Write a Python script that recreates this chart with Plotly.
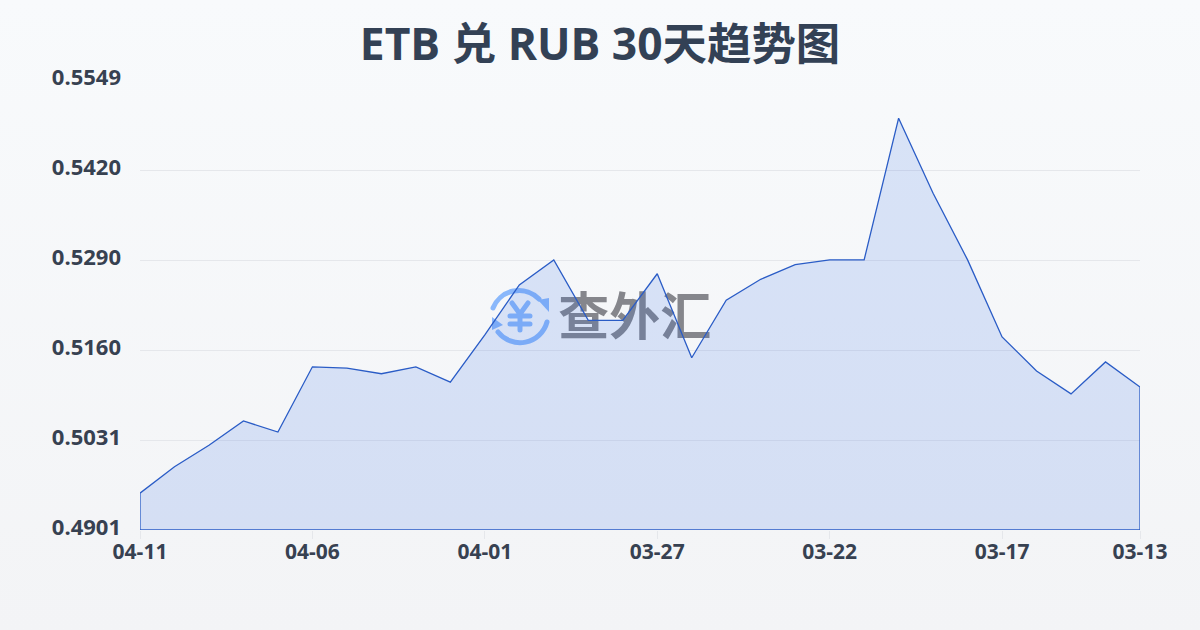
import base64
import plotly.graph_objects as go

dates = ["04-11","04-10","04-09","04-08","04-07","04-06","04-05","04-04","04-03","04-02",
         "04-01","03-31","03-30","03-29","03-28","03-27","03-26","03-25","03-24","03-23",
         "03-22","03-21","03-20","03-19","03-18","03-17","03-16","03-15","03-14","03-13"]
rates = [0.4954,0.4992,0.5023,0.5058,0.5042,0.5136,0.5134,0.5126,0.5136,0.5114,
         0.5182,0.5254,0.5290,0.5203,0.5203,0.5270,0.5149,0.5232,0.5262,0.5283,
         0.5290,0.5290,0.5494,0.5386,0.5290,0.5179,0.5130,0.5097,0.5143,0.5107]
y_labels = ["0.4901","0.5031","0.5160","0.5290","0.5420","0.5549"]
x_tick_idx = [0,5,10,15,20,25,29]
y_min, y_max = 0.4901, 0.5549
y_ticks = [round(y_min + i*(y_max-y_min)/5, 6) for i in range(6)]
xs = list(range(len(rates)))

def uri(svg):
    return "data:image/svg+xml;base64," + base64.b64encode(svg.encode()).decode()

bg = uri('<svg xmlns="http://www.w3.org/2000/svg" width="1200" height="630" preserveAspectRatio="none">'
         '<defs><linearGradient id="g" x1="0" y1="0" x2="0" y2="1"><stop offset="0" stop-color="#f8fafc"/>'
         '<stop offset="1" stop-color="#f3f4f6"/></linearGradient></defs><rect width="1200" height="630" fill="url(#g)"/></svg>')
icon = uri('<svg xmlns="http://www.w3.org/2000/svg" width="64" height="64" viewBox="0 0 64 64">'
           '<g fill="none" stroke="#8ab8fb" stroke-width="5" stroke-linecap="round">'
           '<path d="M5 25 A28 28 0 0 1 51 16"/><path d="M59 39 A28 28 0 0 1 10 49"/>'
           '<path d="M24 20 L32 31 L40 20 M22 33 H42 M22 41 H42 M32 31 V47"/></g>'
           '<path d="M50 17 L61 15 L61 29 Z" fill="#8ab8fb"/><path d="M4 34 L15 42 L4 47 Z" fill="#8ab8fb"/></svg>')

fig = go.Figure()
fig.add_trace(go.Scatter(x=[14.35], y=[0.5200], mode="text", text=["查外汇"], hoverinfo="skip",
    textfont=dict(family="Noto Sans CJK SC", size=51, color="#85868c", weight="bold"),
    textposition="middle center", showlegend=False))
fig.add_trace(go.Scatter(
    x=xs+[xs[-1],xs[0],xs[0]], y=rates+[y_min,y_min,rates[0]],
    mode="lines", fill="toself", fillcolor="rgba(40,100,225,0.15)",
    line=dict(color="#2a5cc6", width=1.3), showlegend=False, cliponaxis=False, hoverinfo="skip"))

fig.update_layout(
    width=1200, height=630, margin=dict(l=140,r=60,t=80,b=100),
    paper_bgcolor="#f6f7f9", plot_bgcolor="rgba(0,0,0,0)", showlegend=False,
    title=dict(text="<b>ETB 兑 RUB 30天趋势图</b>", x=0.5, xanchor="center", y=0.929, yanchor="middle",
               font=dict(family="Open Sans, Noto Sans CJK SC", size=44.4, color="#334155")),
    images=[dict(source=bg, xref="paper", yref="paper", x=-140/1000, y=1+80/450, sizex=1.2, sizey=630/450,
                 xanchor="left", yanchor="top", sizing="stretch", layer="below"),
            dict(source=icon, xref="paper", yref="paper", x=(520-140)/1000, y=(530-315)/450, sizex=0.064, sizey=64/450,
                 xanchor="center", yanchor="middle", sizing="stretch", layer="below")],
    xaxis=dict(range=[0,29], tickvals=x_tick_idx, ticktext=[dates[i] for i in x_tick_idx],
               showgrid=False, zeroline=False, showline=False, ticks="outside", ticklen=8, tickcolor="#e5e7eb",
               ticklabelstandoff=-5,
               tickfont=dict(family="Open Sans", size=21, color="#374151", weight="bold")),
    yaxis=dict(range=[y_min,y_max], tickvals=y_ticks, ticktext=y_labels, showgrid=True, gridcolor="#e5e7eb", gridwidth=1,
               zeroline=False, showline=False, ticks="", ticklabelstandoff=18, ticklabelshift=-3,
               tickfont=dict(family="Open Sans", size=22, color="#374151", weight="bold")),
)
fig.write_html("out.html", config=dict(displayModeBar=False), post_script="document.body.style.margin='0';")
